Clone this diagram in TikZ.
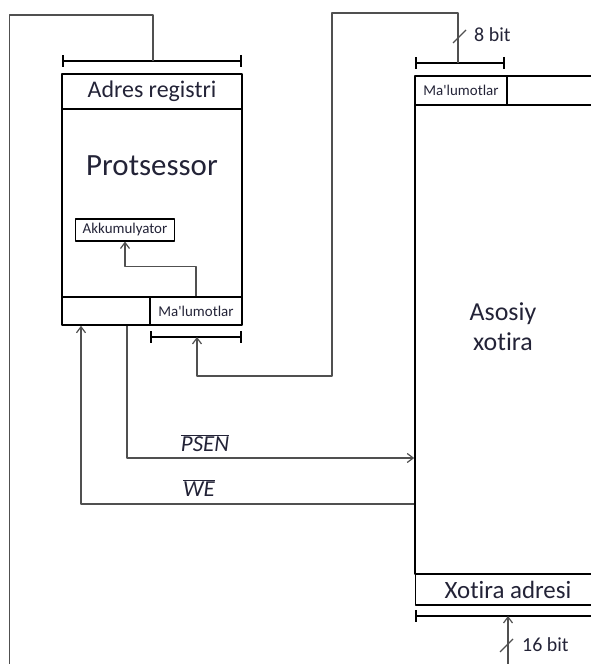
\documentclass[tikz,border=0pt]{standalone}
\usepackage{fontspec}
\setmainfont{Carlito}[Ligatures=NoCommon]
\usetikzlibrary{arrows.meta}
\definecolor{txtc}{RGB}{35,35,55}
\definecolor{wirec}{RGB}{80,80,80}

\tikzset{
  cell/.style={draw,line width=1.6bp,inner sep=0pt,text=txtc},
  wire/.style={draw=wirec,line width=1.2bp},
  bus/.style={line width=1.8bp,{Bar[width=12bp]}-{Bar[width=12bp]}},
  lbl/.style={text=txtc,inner sep=0pt},
}

\begin{document}
\begin{tikzpicture}[>={Straight Barb[length=6bp,width=9bp]},line join=bevel]
\useasboundingbox (0,0) rectangle (591bp,664bp);
\clip (0,0) rectangle (591bp,664bp);
%% protsessor
\node (adr) at (152bp,572.5bp) [cell,minimum width=180bp,minimum height=35bp,font=\fontsize{24}{26}\selectfont] {Adres registri};
  \node (procbody) at (152bp,461bp) [cell,minimum width=180bp,minimum height=188bp] {};
  \node (proc) at (152bp,498bp) [lbl,font=\fontsize{31}{33}\selectfont] {Protsessor};
  \node (lcell) at (106bp,353bp) [cell,minimum width=88bp,minimum height=28bp] {};
  \node (mcell) at (196bp,353bp) [cell,minimum width=92bp,minimum height=28bp,font=\fontsize{15}{17}\selectfont] {Ma\textquotesingle lumotlar};
  \node (akk) at (125bp,434bp) [cell,line width=1.1bp,minimum width=99bp,minimum height=22bp,font=\fontsize{15}{17}\selectfont] {Akkumulyator};
%% asosiy xotira
\node (mdata) at (461bp,573.5bp) [cell,minimum width=92bp,minimum height=29bp,font=\fontsize{15}{17}\selectfont] {Ma\textquotesingle lumotlar};
  \node (mrest) at (553.5bp,573.5bp) [cell,minimum width=93bp,minimum height=29bp] {};
  \node (membody) at (507.5bp,324.5bp) [cell,minimum width=185bp,minimum height=469bp] {};
  \node (mem) at (503bp,337bp) [lbl,align=center,font=\fontsize{26}{30}\selectfont] {Asosiy\\ xotira};
  \node (maddr) at (508bp,74.5bp) [cell,minimum width=185bp,minimum height=31bp,font=\fontsize{25}{27}\selectfont] {Xotira adresi};
%% shinalar
\coordinate (abL) at (62bp,603bp);
  \coordinate (abR) at (242bp,603bp);
  \coordinate (abmid) at (153bp,603bp);
  \coordinate (pdL) at (150bp,327bp);
  \coordinate (pdR) at (242bp,327bp);
  \coordinate (pdbus) at (197bp,327bp);
  \coordinate (mdL) at (415bp,601bp);
  \coordinate (mdR) at (505bp,601bp);
  \coordinate (mdbus) at (458bp,601bp);
  \coordinate (maL) at (415bp,48bp);
  \coordinate (maR) at (605bp,48bp);
  \coordinate (mabus) at (508bp,48bp);
  \draw [bus] (abL) -- (abR);
  \draw [bus] (pdL) -- (pdR);
  \draw [bus] (mdL) -- (mdR);
  \draw [bus] (maL) -- (maR);
%% ulanishlar
\coordinate (aloop) at (9.5bp,649bp);
  \coordinate (dloop) at (332bp,651bp);
  \coordinate (dturn) at (332bp,288bp);
  \coordinate (psen) at (127bp,206bp);
  \coordinate (we) at (81bp,160bp);
  \draw [wire,->] (abmid) |- (aloop) -- ++(0,-690bp) -| (mabus);
  \draw [wire,->] (mdbus) |- (dloop) -- (dturn) -| (pdbus);
  \draw [wire,->] (mcell.north) -- ++(0,30bp) -| (akk.south);
  \draw [wire,->] (lcell.south -| psen) |- (membody.west |- psen);
  \draw [wire,->] (membody.west |- we) -| (lcell.south -| we);
  \draw [wire] (453bp,621bp) -- (466bp,634bp);
  \draw [wire] (500bp,12bp) -- (513bp,25bp);
  \node (b8) at (474bp,629bp) [lbl,anchor=west,font=\fontsize{20}{22}\selectfont] {8 bit};
  \node (b16) at (522bp,19bp) [lbl,anchor=west,font=\fontsize{20}{22}\selectfont] {16 bit};
  \node (psenlbl) at (205bp,221bp) [lbl,font=\fontsize{23}{25}\selectfont] {$\overline{\mbox{\itshape PSEN}}$};
  \node (welbl) at (199bp,176bp) [lbl,font=\fontsize{23}{25}\selectfont] {$\overline{\mbox{\itshape WE}}$};
%
\end{tikzpicture}
\end{document}
